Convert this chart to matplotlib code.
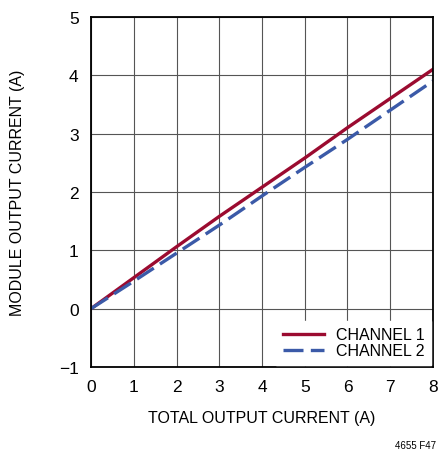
import numpy as np
import matplotlib
matplotlib.use("Agg")
import matplotlib.pyplot as plt

# data
total_current = [0, 1, 2, 3, 4, 5, 6, 7, 8]
channel1 = [0, 0.53, 1.06, 1.58, 2.08, 2.58, 3.1, 3.6, 4.1]
channel2 = [0, 0.47, 0.95, 1.43, 1.93, 2.42, 2.9, 3.4, 3.9]
x_ticks = [0, 1, 2, 3, 4, 5, 6, 7, 8]
y_ticks = [-1, 0, 1, 2, 3, 4, 5]
y_tick_labels = ["\u22121", "0", "1", "2", "3", "4", "5"]

plt.rcParams['font.family'] = ['Liberation Sans Narrow', 'Liberation Sans', 'DejaVu Sans']

fig = plt.figure(figsize=(4.4, 4.56), dpi=100)
ax = fig.add_axes([0.207, 0.193, 0.777, 0.768])

ax.plot(total_current, channel1, color="#9b0b30", lw=2.4, label="CHANNEL 1")
ax.plot(total_current, channel2, color="#3b5aa8", lw=2.4,
        dashes=(6, 2.2), label="CHANNEL 2")

ax.set_xlim(0, 8)
ax.set_ylim(-1, 5)
ax.set_xticks(x_ticks)
ax.set_yticks(y_ticks)
ax.set_yticklabels(y_tick_labels)
ax.tick_params(length=0, labelsize=12.5, pad=9)
ax.grid(True, color="#555555", lw=0.8)
for s in ax.spines.values():
    s.set_linewidth(1.3)

ax.set_xlabel("TOTAL OUTPUT CURRENT (A)", fontsize=11.5, labelpad=11)
ax.set_ylabel("MODULE OUTPUT CURRENT (A)", fontsize=11.5, labelpad=24)

leg = ax.legend(loc="lower right", frameon=True, fontsize=11.5,
                handlelength=2.6, borderaxespad=0.15, labelspacing=0.05,
                handletextpad=0.7, fancybox=False, edgecolor="white",
                framealpha=1)

fig.text(0.992, 0.012, "4655 F47", fontsize=7, ha="right", va="bottom")

fig.savefig("out.png", dpi=100)
